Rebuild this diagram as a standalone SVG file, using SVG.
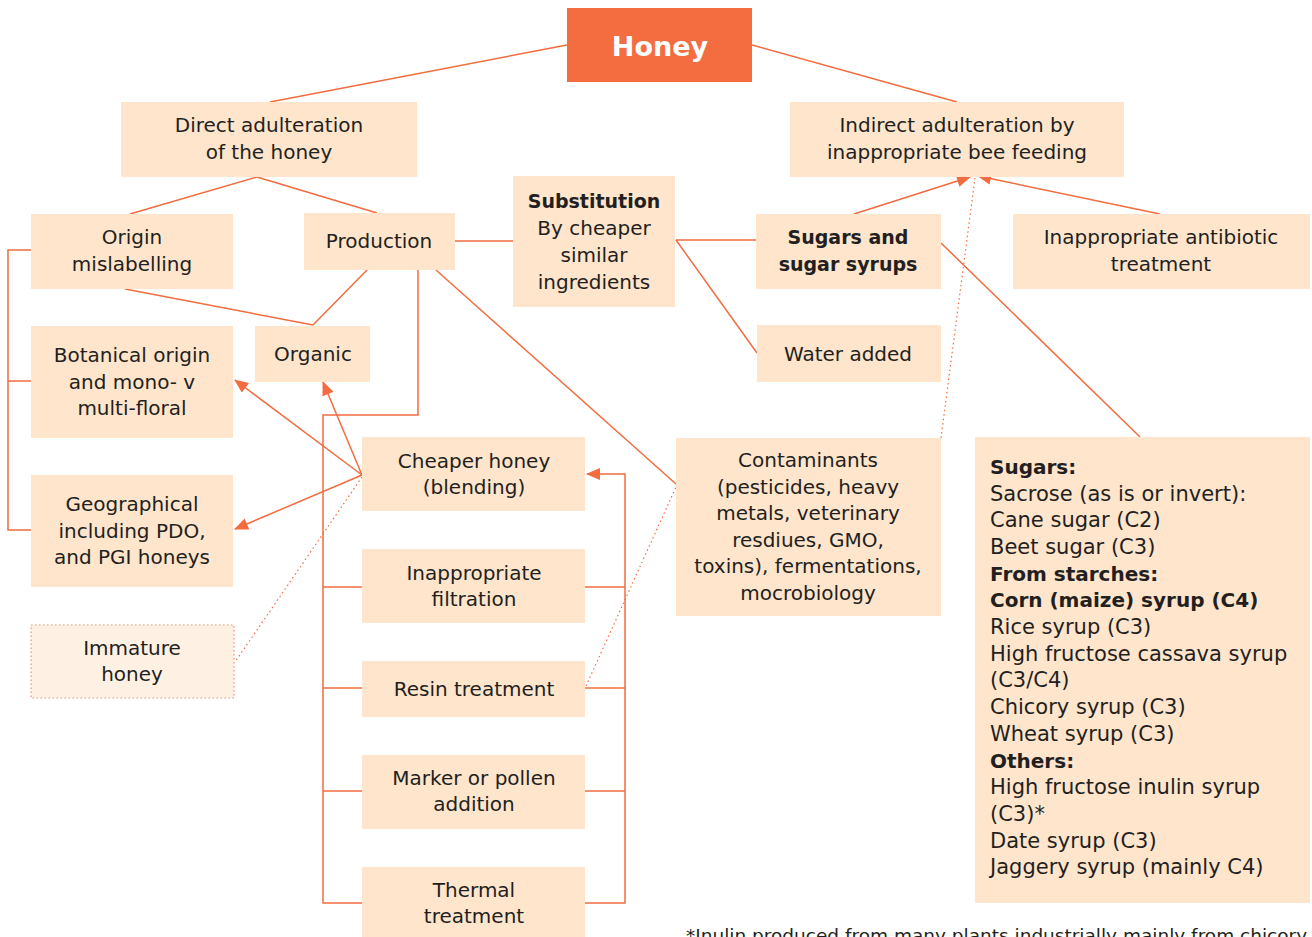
<svg xmlns="http://www.w3.org/2000/svg" width="1312" height="937" viewBox="0 0 1312 937">
<defs>
<style>
.box{fill:#FEE5CC;}
.t{font-family:"DejaVu Sans","Liberation Sans",sans-serif;font-size:20px;fill:#231F20;text-anchor:middle;}
.l{text-anchor:start;font-size:21px;}
.b{font-weight:bold;font-size:19px;}
.l.b{font-size:20px;}
.c{fill:none;stroke:#F26C3F;stroke-width:1.5;}
.d{fill:none;stroke:#F26C3F;stroke-width:1.2;stroke-dasharray:1.5 3;}
</style>
<marker id="ah" viewBox="0 0 14 12" refX="13" refY="6" markerWidth="15" markerHeight="12" markerUnits="userSpaceOnUse" orient="auto">
<path d="M0,0 L14,6 L0,12 Z" fill="#F26C3F"/>
</marker>
</defs>
<rect width="1312" height="937" fill="#FFFFFF"/>
<g id="connectors">
<line class="c" x1="567" y1="45" x2="270" y2="102"/>
<line class="c" x1="752" y1="45" x2="957" y2="102"/>
<line class="c" x1="257" y1="177" x2="130" y2="214"/>
<line class="c" x1="257" y1="177" x2="377" y2="213"/>
<line class="c" x1="125" y1="289" x2="313" y2="325"/>
<line class="c" x1="367" y1="270" x2="313" y2="325"/>
<polyline class="c" points="31,250 8,250 8,530 31,530"/>
<line class="c" x1="8" y1="381" x2="31" y2="381"/>
<line class="c" x1="455" y1="241" x2="513" y2="241"/>
<line class="c" x1="676" y1="240" x2="756" y2="240"/>
<line class="c" x1="676" y1="240" x2="757" y2="353"/>
<polyline class="c" points="418,269 418,415 323,415 323,903 362,903"/>
<line class="c" x1="323" y1="587" x2="362" y2="587"/>
<line class="c" x1="323" y1="688" x2="362" y2="688"/>
<line class="c" x1="323" y1="791" x2="362" y2="791"/>
<polyline class="c" points="585,903 625,903 625,474 587,474" marker-end="url(#ah)"/>
<line class="c" x1="585" y1="587" x2="625" y2="587"/>
<line class="c" x1="585" y1="688" x2="625" y2="688"/>
<line class="c" x1="585" y1="791" x2="625" y2="791"/>
<line class="c" x1="362" y1="475" x2="235" y2="380" marker-end="url(#ah)"/>
<line class="c" x1="362" y1="475" x2="235" y2="529" marker-end="url(#ah)"/>
<line class="c" x1="362" y1="475" x2="323" y2="382" marker-end="url(#ah)"/>
<line class="d" x1="362" y1="477" x2="235" y2="662"/>
<line class="c" x1="436" y1="270" x2="676" y2="484"/>
<line class="d" x1="586" y1="686" x2="676" y2="487"/>
<line class="d" x1="941" y1="438" x2="975" y2="178"/>
<line class="c" x1="854" y1="214" x2="970" y2="177" marker-end="url(#ah)"/>
<line class="c" x1="1160" y1="214" x2="978" y2="176" marker-end="url(#ah)"/>
<line class="c" x1="941" y1="243" x2="1140" y2="437"/>
</g>
<g id="honey">
<rect x="567" y="8" width="185" height="74" fill="#F46D41"/>
<text x="660" y="56" style="font-family:'DejaVu Sans','Liberation Sans',sans-serif;font-size:27px;font-weight:bold;fill:#FFFFFF;text-anchor:middle;">Honey</text>
</g>
<g id="direct">
<rect class="box" x="121" y="102" width="296" height="75"/>
<text class="t" x="269" y="132">Direct adulteration</text>
<text class="t" x="269" y="159">of the honey</text>
</g>
<g id="indirect">
<rect class="box" x="790" y="102" width="334" height="75"/>
<text class="t" x="957" y="132">Indirect adulteration by</text>
<text class="t" x="957" y="159">inappropriate bee feeding</text>
</g>
<g id="origin">
<rect class="box" x="31" y="214" width="202" height="75"/>
<text class="t" x="132" y="244">Origin</text>
<text class="t" x="132" y="271">mislabelling</text>
</g>
<g id="production">
<rect class="box" x="304" y="213" width="151" height="57"/>
<text class="t" x="379" y="248">Production</text>
</g>
<g id="substitution">
<rect class="box" x="513" y="176" width="162" height="131"/>
<text class="t b" x="594" y="208">Substitution</text>
<text class="t" x="594" y="235">By cheaper</text>
<text class="t" x="594" y="262">similar</text>
<text class="t" x="594" y="289">ingredients</text>
</g>
<g id="sugars-syrups">
<rect class="box" x="756" y="214" width="185" height="75"/>
<text class="t b" x="848" y="244">Sugars and</text>
<text class="t b" x="848" y="271">sugar syrups</text>
</g>
<g id="antibiotic">
<rect class="box" x="1013" y="214" width="297" height="75"/>
<text class="t" x="1161" y="244">Inappropriate antibiotic</text>
<text class="t" x="1161" y="271">treatment</text>
</g>
<g id="organic">
<rect class="box" x="255" y="326" width="115" height="56"/>
<text class="t" x="313" y="361">Organic</text>
</g>
<g id="botanical">
<rect class="box" x="31" y="326" width="202" height="112"/>
<text class="t" x="132" y="362">Botanical origin</text>
<text class="t" x="132" y="389">and mono- v</text>
<text class="t" x="132" y="415">multi-floral</text>
</g>
<g id="water">
<rect class="box" x="757" y="325" width="184" height="57"/>
<text class="t" x="848" y="361">Water added</text>
</g>
<g id="cheaper">
<rect class="box" x="362" y="437" width="223" height="74"/>
<text class="t" x="474" y="468">Cheaper honey</text>
<text class="t" x="474" y="494">(blending)</text>
</g>
<g id="contaminants">
<rect class="box" x="676" y="438" width="265" height="178"/>
<text class="t" x="808" y="467">Contaminants</text>
<text class="t" x="808" y="494">(pesticides, heavy</text>
<text class="t" x="808" y="520">metals, veterinary</text>
<text class="t" x="808" y="547">resdiues, GMO,</text>
<text class="t" x="808" y="573">toxins), fermentations,</text>
<text class="t" x="808" y="600">mocrobiology</text>
</g>
<g id="sugars-list">
<rect class="box" x="975" y="437" width="335" height="466"/>
<text class="t l b" x="990" y="474">Sugars:</text>
<text class="t l" x="990" y="501">Sacrose (as is or invert):</text>
<text class="t l" x="990" y="527">Cane sugar (C2)</text>
<text class="t l" x="990" y="554">Beet sugar (C3)</text>
<text class="t l b" x="990" y="581">From starches:</text>
<text class="t l b" x="990" y="607">Corn (maize) syrup (C4)</text>
<text class="t l" x="990" y="634">Rice syrup (C3)</text>
<text class="t l" x="990" y="661">High fructose cassava syrup</text>
<text class="t l" x="990" y="687">(C3/C4)</text>
<text class="t l" x="990" y="714">Chicory syrup (C3)</text>
<text class="t l" x="990" y="741">Wheat syrup (C3)</text>
<text class="t l b" x="990" y="768">Others:</text>
<text class="t l" x="990" y="794">High fructose inulin syrup</text>
<text class="t l" x="990" y="821">(C3)*</text>
<text class="t l" x="990" y="848">Date syrup (C3)</text>
<text class="t l" x="990" y="874">Jaggery syrup (mainly C4)</text>
</g>
<g id="geographical">
<rect class="box" x="31" y="475" width="202" height="112"/>
<text class="t" x="132" y="511">Geographical</text>
<text class="t" x="132" y="538">including PDO,</text>
<text class="t" x="132" y="564">and PGI honeys</text>
</g>
<g id="filtration">
<rect class="box" x="362" y="549" width="223" height="74"/>
<text class="t" x="474" y="580">Inappropriate</text>
<text class="t" x="474" y="606">filtration</text>
</g>
<g id="immature">
<rect x="31" y="625" width="203" height="73" fill="#FEF1E3" stroke="#F08A6A" stroke-width="1.2" stroke-dasharray="1.5 2.5"/>
<text class="t" x="132" y="655">Immature</text>
<text class="t" x="132" y="681">honey</text>
</g>
<g id="resin">
<rect class="box" x="362" y="661" width="223" height="56"/>
<text class="t" x="474" y="696">Resin treatment</text>
</g>
<g id="marker">
<rect class="box" x="362" y="755" width="223" height="74"/>
<text class="t" x="474" y="785">Marker or pollen</text>
<text class="t" x="474" y="811">addition</text>
</g>
<g id="thermal">
<rect class="box" x="362" y="867" width="223" height="70"/>
<text class="t" x="474" y="897">Thermal</text>
<text class="t" x="474" y="923">treatment</text>
</g>
<text x="686" y="942" style="font-family:'DejaVu Sans','Liberation Sans',sans-serif;font-size:18.5px;fill:#231F20;">*Inulin produced from many plants industrially mainly from chicory</text>
</svg>
